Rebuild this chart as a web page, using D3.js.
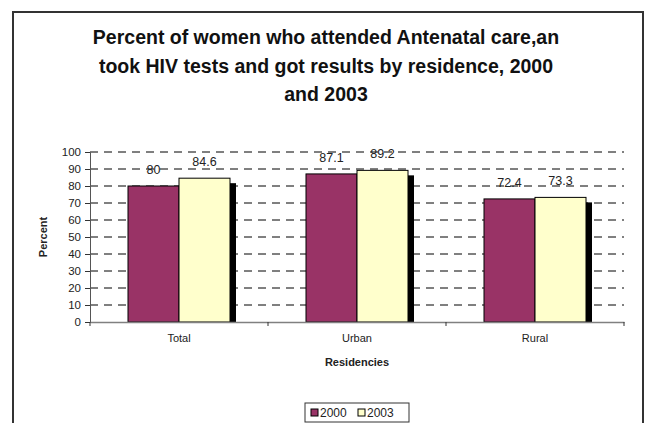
<!DOCTYPE html>
<meta charset="utf-8">
<style>
  body { margin: 0; background: #fff; font-family: "Liberation Sans", Arial, sans-serif; }
</style>
<svg width="648" height="423"></svg>
<script src="https://d3js.org/d3.v7.min.js"></script>
<script>
  // ---------------------------------------------------------------
  // data
  // ---------------------------------------------------------------
  const categories = ["Total", "Urban", "Rural"];
  const years = ["2000", "2003"];
  const values2000 = [80, 87.1, 72.4];
  const values2003 = [84.6, 89.2, 73.3];
  const yTicks = [0, 10, 20, 30, 40, 50, 60, 70, 80, 90, 100];
  const colors = ["#993366", "#FFFFCC"];
  const titleLines = [
    "Percent of women who attended Antenatal care,an",
    "took HIV tests and got results by residence, 2000",
    "and 2003"
  ];

  // ---------------------------------------------------------------
  // layout
  // ---------------------------------------------------------------
  const svg = d3.select("svg");
  const plotLeft = 90, plotRight = 624, plotTop = 152, plotBottom = 322;

  // outer chart frame
  svg.append("rect")
    .attr("x", 13).attr("y", 12)
    .attr("width", 630).attr("height", 430)
    .attr("fill", "#fff").attr("stroke", "#333").attr("stroke-width", 2);

  // title
  svg.append("g").selectAll("text")
    .data(titleLines).enter().append("text")
      .attr("x", 326)
      .attr("y", (d, i) => 44 + i * 28.5)
      .attr("text-anchor", "middle")
      .attr("font-size", 19.5).attr("font-weight", "bold")
      .attr("fill", "#111")
      .text(d => d);

  const x = d3.scaleBand().domain(categories).range([plotLeft, plotRight]);
  const barW = x.bandwidth() * 102 / 178;
  const xs = d3.scaleBand().domain(years).range([0, barW]);
  const y = d3.scaleLinear().domain([0, 100]).range([plotBottom, plotTop]);

  // gridlines
  svg.append("g").selectAll("line")
    .data(yTicks.filter(t => t > 0)).enter().append("line")
      .attr("x1", plotLeft).attr("x2", plotRight)
      .attr("y1", d => y(d)).attr("y2", d => y(d))
      .attr("stroke", "#000").attr("stroke-dasharray", "8,6");

  // y axis
  const yAxis = svg.append("g")
    .attr("transform", `translate(${plotLeft},0)`)
    .call(d3.axisLeft(y).tickValues(yTicks).tickSize(5).tickPadding(4));
  yAxis.select(".domain").attr("stroke", "#555");
  yAxis.selectAll(".tick line").attr("stroke", "#333");
  yAxis.selectAll("text").attr("font-size", 11.5).attr("fill", "#222")
    .attr("font-family", "Liberation Sans, Arial, sans-serif");

  // bars
  const rows = categories.map((c, i) => ({cat: c, vals: [values2000[i], values2003[i]]}));
  const groups = svg.append("g").selectAll("g")
    .data(rows).enter().append("g")
      .attr("transform", d => `translate(${x(d.cat) + (x.bandwidth() - barW) / 2},0)`);

  // shadow
  groups.selectAll("rect.shadow")
    .data(d => d.vals.map((v, j) => ({year: years[j], v: v}))).enter().append("rect")
      .attr("class", "shadow")
      .attr("x", d => xs(d.year) + 6)
      .attr("y", d => y(d.v) + 5)
      .attr("width", xs.bandwidth())
      .attr("height", d => plotBottom - y(d.v) - 5)
      .attr("fill", "#000");

  groups.selectAll("rect.bar")
    .data(d => d.vals.map((v, j) => ({year: years[j], v: v, c: colors[j]}))).enter().append("rect")
      .attr("class", "bar")
      .attr("x", d => xs(d.year))
      .attr("y", d => y(d.v))
      .attr("width", xs.bandwidth())
      .attr("height", d => plotBottom - y(d.v))
      .attr("fill", d => d.c)
      .attr("stroke", "#000").attr("stroke-width", 1);

  groups.selectAll("text.val")
    .data(d => d.vals.map((v, j) => ({year: years[j], v: v}))).enter().append("text")
      .attr("x", d => xs(d.year) + xs.bandwidth() / 2)
      .attr("y", d => y(d.v) - 12)
      .attr("text-anchor", "middle")
      .attr("font-size", 12.5).attr("fill", "#222")
      .text(d => d.v);

  // x axis
  const xAxis = svg.append("g")
    .attr("transform", `translate(0,${plotBottom})`)
    .call(d3.axisBottom(x).tickSize(0).tickPadding(12));
  xAxis.select(".domain").attr("stroke", "#808080").attr("stroke-width", 1.5);
  xAxis.selectAll("text").attr("font-size", 11).attr("fill", "#222")
    .attr("font-family", "Liberation Sans, Arial, sans-serif");
  svg.append("g").selectAll("line")
    .data(categories.concat(["end"])).enter().append("line")
      .attr("x1", d => d === "end" ? plotRight : x(d))
      .attr("x2", d => d === "end" ? plotRight : x(d))
      .attr("y1", plotBottom).attr("y2", plotBottom + 4)
      .attr("stroke", "#333");

  // axis titles
  svg.append("text")
    .attr("x", (plotLeft + plotRight) / 2).attr("y", 366)
    .attr("text-anchor", "middle")
    .attr("font-size", 11).attr("font-weight", "bold").attr("fill", "#222")
    .text("Residencies");
  svg.append("text")
    .attr("transform", `translate(47,${(plotTop + plotBottom) / 2}) rotate(-90)`)
    .attr("text-anchor", "middle")
    .attr("font-size", 11).attr("font-weight", "bold").attr("fill", "#222")
    .text("Percent");

  // legend
  const legend = svg.append("g").attr("transform", "translate(305,403)");
  legend.append("rect")
    .attr("width", 104).attr("height", 19)
    .attr("fill", "#fff").attr("stroke", "#333");
  const item = legend.selectAll("g.item")
    .data(years).enter().append("g")
      .attr("transform", (d, i) => `translate(${6 + i * 47},0)`);
  item.append("rect")
    .attr("y", 6).attr("width", 7).attr("height", 7)
    .attr("fill", (d, i) => colors[i]).attr("stroke", "#000");
  item.append("text")
    .attr("x", 9).attr("y", 14)
    .attr("font-size", 12).attr("fill", "#222")
    .text(d => d);
</script>
